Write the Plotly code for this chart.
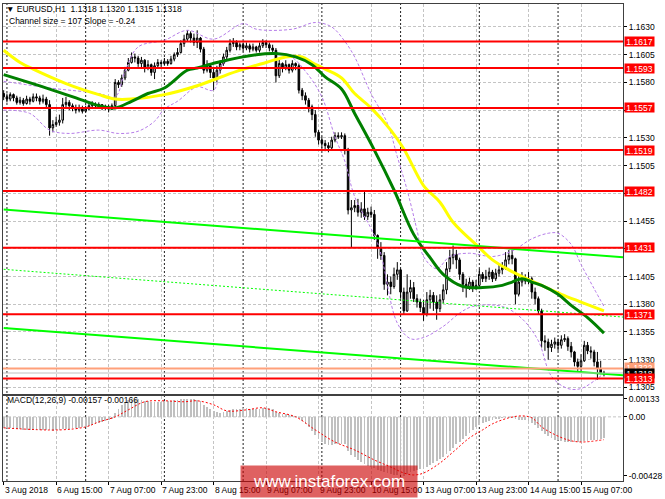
import plotly.graph_objects as go

# ---------------- data ----------------
closes = [1.1567,1.1565,1.1569,1.1566,1.1562,1.1564,1.1561,1.1565,1.1563,1.1567,
 1.1566,1.1563,1.1565,1.1560,1.1539,1.1542,1.1544,1.1546,1.1560,1.1562,
 1.1559,1.1557,1.1555,1.1557,1.1554,1.1556,1.1559,1.1560,1.1559,1.1560,
 1.1557,1.1558,1.1556,1.1559,1.1580,1.1578,1.1584,1.1591,1.1598,1.1603,
 1.1602,1.1597,1.1600,1.1593,1.1596,1.1589,1.1595,1.1598,1.1597,1.1599,
 1.1597,1.1601,1.1605,1.1607,1.1615,1.1619,1.1624,1.1620,1.1616,1.1620,
 1.1610,1.1591,1.1595,1.1589,1.1584,1.1591,1.1597,1.1603,1.1609,1.1615,
 1.1616,1.1612,1.1614,1.1611,1.1613,1.1610,1.1612,1.1609,1.1613,1.1616,
 1.1614,1.1611,1.1609,1.1586,1.1597,1.1593,1.1596,1.1591,1.1597,1.1595,
 1.1573,1.1568,1.1564,1.1558,1.1551,1.1535,1.1528,1.1525,1.1523,1.1521,
 1.1528,1.1532,1.1531,1.1532,1.1519,1.1465,1.1467,1.1469,1.1463,1.1466,
 1.1459,1.1463,1.1461,1.1442,1.1431,1.1424,1.1398,1.1400,1.1396,1.1407,
 1.1411,1.1391,1.1374,1.1391,1.1395,1.1385,1.1382,1.1377,1.1371,1.1384,
 1.1388,1.1382,1.1376,1.1384,1.1393,1.1412,1.1422,1.1425,1.1420,1.1407,
 1.1398,1.1396,1.1400,1.1395,1.1397,1.1407,1.1403,1.1405,1.1409,1.1403,
 1.1408,1.1411,1.1413,1.1420,1.1424,1.1421,1.1389,1.1400,1.1403,1.1401,
 1.1403,1.1391,1.1385,1.1374,1.1347,1.1346,1.1341,1.1344,1.1346,1.1343,
 1.1348,1.1349,1.1342,1.1337,1.1328,1.1324,1.1329,1.1343,1.1338,1.1337,
 1.1328,1.1322,1.1318,1.1318]

highs = [1.1573,1.1570,1.1571,1.1570,1.1568,1.1567,1.1566,1.1568,1.1567,1.1570,
 1.1570,1.1568,1.1569,1.1567,1.1564,1.1546,1.1549,1.1551,1.1566,1.1567,
 1.1564,1.1561,1.1560,1.1560,1.1559,1.1559,1.1562,1.1563,1.1562,1.1562,
 1.1560,1.1560,1.1560,1.1561,1.1583,1.1582,1.1587,1.1594,1.1602,1.1607,
 1.1606,1.1604,1.1603,1.1601,1.1600,1.1597,1.1598,1.1601,1.1600,1.1602,
 1.1601,1.1604,1.1607,1.1611,1.1618,1.1623,1.1627,1.1626,1.1624,1.1627,
 1.1621,1.1612,1.1600,1.1597,1.1593,1.1595,1.1600,1.1606,1.1612,1.1619,
 1.1620,1.1618,1.1616,1.1616,1.1616,1.1615,1.1615,1.1613,1.1616,1.1619,
 1.1618,1.1616,1.1614,1.1611,1.1601,1.1598,1.1600,1.1597,1.1600,1.1598,
 1.1597,1.1575,1.1571,1.1566,1.1560,1.1555,1.1537,1.1531,1.1528,1.1526,
 1.1531,1.1535,1.1535,1.1535,1.1534,1.1521,1.1474,1.1474,1.1475,1.1472,
 1.1483,1.1467,1.1468,1.1465,1.1443,1.1436,1.1427,1.1407,1.1405,1.1413,
 1.1418,1.1412,1.1395,1.1407,1.1402,1.1400,1.1389,1.1385,1.1384,1.1391,
 1.1393,1.1391,1.1388,1.1389,1.1398,1.1418,1.1429,1.1433,1.1429,1.1422,
 1.1409,1.1403,1.1404,1.1402,1.1402,1.1412,1.1409,1.1411,1.1413,1.1411,
 1.1412,1.1416,1.1418,1.1427,1.1429,1.1429,1.1422,1.1407,1.1409,1.1407,
 1.1409,1.1405,1.1395,1.1387,1.1376,1.1352,1.1349,1.1348,1.1350,1.1349,
 1.1352,1.1353,1.1351,1.1346,1.1338,1.1331,1.1335,1.1347,1.1346,1.1342,
 1.1339,1.1337,1.1329,1.1320]

lows = [1.1564,1.1562,1.1563,1.1563,1.1560,1.1560,1.1559,1.1560,1.1560,1.1562,
 1.1563,1.1560,1.1561,1.1557,1.1532,1.1535,1.1540,1.1541,1.1543,1.1557,
 1.1555,1.1554,1.1552,1.1553,1.1552,1.1553,1.1555,1.1557,1.1556,1.1557,
 1.1555,1.1555,1.1553,1.1555,1.1557,1.1575,1.1576,1.1582,1.1590,1.1597,
 1.1598,1.1594,1.1593,1.1589,1.1591,1.1586,1.1583,1.1593,1.1594,1.1595,
 1.1595,1.1596,1.1599,1.1603,1.1606,1.1612,1.1617,1.1616,1.1613,1.1611,
 1.1607,1.1588,1.1589,1.1584,1.1573,1.1580,1.1588,1.1595,1.1601,1.1607,
 1.1612,1.1609,1.1609,1.1608,1.1609,1.1607,1.1608,1.1607,1.1607,1.1611,
 1.1611,1.1608,1.1606,1.1580,1.1584,1.1589,1.1591,1.1588,1.1589,1.1591,
 1.1570,1.1564,1.1560,1.1553,1.1546,1.1531,1.1524,1.1521,1.1518,1.1517,
 1.1519,1.1526,1.1529,1.1529,1.1515,1.1461,1.1431,1.1463,1.1459,1.1458,
 1.1456,1.1456,1.1458,1.1438,1.1421,1.1420,1.1393,1.1388,1.1389,1.1394,
 1.1402,1.1385,1.1371,1.1373,1.1385,1.1382,1.1377,1.1373,1.1365,1.1369,
 1.1376,1.1374,1.1366,1.1373,1.1381,1.1389,1.1409,1.1416,1.1412,1.1402,
 1.1391,1.1386,1.1393,1.1391,1.1393,1.1394,1.1400,1.1400,1.1402,1.1400,
 1.1401,1.1405,1.1407,1.1411,1.1416,1.1416,1.1380,1.1387,1.1396,1.1398,
 1.1398,1.1385,1.1380,1.1371,1.1341,1.1338,1.1330,1.1337,1.1340,1.1338,
 1.1340,1.1346,1.1338,1.1332,1.1324,1.1320,1.1320,1.1328,1.1335,1.1331,
 1.1324,1.1312,1.1317,1.1315]

first_open = 1.1570

macd_hist = [-0.00080,-0.00082,-0.00084,-0.00086,-0.00088,-0.00090,
 -0.00092,-0.00093,-0.00094,-0.00095,-0.00095,-0.00096,-0.00096,-0.00095,-0.00098,-0.00100,-0.00098,-0.00096,
 -0.00090,-0.00088,-0.00085,-0.00082,-0.00080,-0.00078,-0.00075,-0.00072,-0.00070,
 -0.00062,-0.00055,-0.00048,-0.00040,-0.00032,-0.00022,-0.00012,
 0.00030,0.00060,0.00085,
 0.00105,0.00120,0.00130,0.00133,
 0.00128,0.00122,0.00118,0.00112,0.00108,0.00105,0.00108,0.00110,0.00112,
 0.00115,0.00118,0.00120,0.00124,0.00128,0.00131,0.00133,0.00132,0.00130,
 0.00125,0.00112,0.00090,0.00075,0.00060,0.00045,
 0.00035,0.00030,0.00032,0.00040,0.00048,0.00055,0.00058,0.00060,
 0.00062,0.00062,0.00060,0.00058,0.00056,0.00058,0.00062,0.00064,0.00062,0.00058,
 0.00035,0.00028,0.00022,0.00018,0.00012,0.00010,0.00008,
 -0.00010,-0.00030,-0.00050,-0.00075,-0.00100,-0.00130,-0.00155,-0.00180,-0.00195,-0.00205,
 -0.00205,-0.00200,-0.00198,-0.00195,-0.00200,
 -0.00250,-0.00275,-0.00295,-0.00315,-0.00330,-0.00345,-0.00355,-0.00362,
 -0.00375,-0.00385,-0.00392,-0.00405,-0.00412,-0.00418,-0.00420,-0.00422,-0.00425,-0.00428,
 -0.00418,-0.00405,-0.00395,-0.00385,-0.00378,-0.00370,-0.00362,
 -0.00350,-0.00338,-0.00325,-0.00310,-0.00295,-0.00272,-0.00250,
 -0.00225,-0.00200,-0.00180,-0.00160,-0.00140,-0.00120,-0.00095,-0.00075,-0.00060,
 -0.00045,-0.00035,-0.00028,-0.00022,-0.00015,-0.00012,-0.00010,
 -0.00008,-0.00005,-0.00005,-0.00015,-0.00020,-0.00022,-0.00025,-0.00030,
 -0.00045,-0.00060,-0.00078,-0.00105,-0.00125,
 -0.00140,-0.00155,-0.00165,-0.00172,-0.00178,-0.00180,-0.00182,
 -0.00182,-0.00185,-0.00185,-0.00182,-0.00178,-0.00175,-0.00172,-0.00168,-0.00165,-0.00160,-0.00157]

signal_idx = [0,17,25,29,34,38,43,49,55,59,64,68,74,79,83,89,95,101,107,113,
              118,122,125,128,133,137,142,146,149,154,158,161,164,167,172,176,183]
signal_val = [-0.00080,-0.00095,-0.00073,-0.00037,0.0,0.00051,0.00110,0.00117,0.00110,0.00117,
              0.00088,0.00044,0.00051,0.00066,0.00037,0.0,-0.00095,-0.00183,-0.00241,-0.00314,
              -0.00365,-0.00409,-0.00423,-0.00409,-0.00336,-0.00256,-0.00153,-0.00095,-0.00051,-0.00007,
              0.00007,-0.00007,-0.00073,-0.00117,-0.00168,-0.00183,-0.00166]

ma_fast_idx = [0,14,24,29,34,39,44,49,56,59,65,77,83,89,94,98,103,107,113,119,
               125,130,134,140,146,152,155,158,161,164,169,173,178,183]
ma_fast_val = [1.1587,1.1574,1.1564,1.1559,1.1557,1.1563,1.1570,1.1575,1.1591,1.1593,
               1.1598,1.1605,1.1606,1.1603,1.1596,1.1585,1.1574,1.1552,1.1519,1.1483,
               1.1443,1.1422,1.1407,1.1396,1.1395,1.1397,1.1400,1.1403,1.1400,1.1397,
               1.1389,1.1379,1.1368,1.1354]

ma_slow_idx = [0,5,9,19,29,34,39,49,59,71,80,86,91,94,98,103,107,112,118,122,
               128,133,137,145,149,154,158,164,170,176,183]
ma_slow_val = [1.1609,1.1598,1.1592,1.1579,1.1569,1.1565,1.1565,1.1569,1.1577,1.1590,
               1.1598,1.1603,1.1603,1.1598,1.1592,1.1584,1.1570,1.1557,1.1537,1.1520,
               1.1487,1.1472,1.1454,1.1431,1.1420,1.1411,1.1405,1.1397,1.1389,1.1382,
               1.1374]

bb_upper_idx = [0,14,29,34,37,41,49,56,64,73,77,88,95,100,104,107,112,117,120,123,
                126,128,132,136,142,149,155,161,166,169,173,176,180,183]
bb_upper_val = [1.1581,1.1575,1.1570,1.1567,1.1590,1.1612,1.1618,1.1627,1.1619,1.1633,
                1.1628,1.1628,1.1634,1.1630,1.1617,1.1603,1.1570,1.1543,1.1513,1.1483,
                1.1447,1.1423,1.1412,1.1423,1.1426,1.1423,1.1428,1.1439,1.1444,1.1444,
                1.1434,1.1416,1.1394,1.1378]

bb_lower_idx = [0,8,14,20,29,35,41,46,49,53,59,64,67,77,87,92,97,101,104,107,
                114,120,124,128,134,139,143,152,158,163,167,172,176,181,183]
bb_lower_val = [1.1555,1.1552,1.1537,1.1534,1.1537,1.1534,1.1536,1.1545,1.1556,1.1563,
                1.1576,1.1573,1.1597,1.1605,1.1604,1.1590,1.1567,1.1531,1.1509,1.1477,
                1.1435,1.1363,1.1349,1.1350,1.1360,1.1372,1.1378,1.1378,1.1367,1.1347,
                1.1315,1.1304,1.1304,1.1313,1.1318]

channel_idx = [0, 189]
channel_upper = [1.14655, 1.14223]
channel_mid = [1.14115, 1.13684]
channel_lower = [1.13585, 1.13159]

levels = [1.1617, 1.1593, 1.1557, 1.1519, 1.1482, 1.1431, 1.1371, 1.1313]
salmon_level = 1.1322
bid_price = 1.1318

price_ticks = [1.1630, 1.1605, 1.1580, 1.1555, 1.1530, 1.1505, 1.1480,
               1.1455, 1.1430, 1.1405, 1.1380, 1.1355, 1.1330, 1.1305]
macd_ticks = [0.00133, 0.0, -0.00428]
macd_tick_text = ["0.00133", "0.00", "-0.00428"]

time_label_idx = [0, 16, 32, 48, 64, 80, 96, 112, 128, 144, 160, 176]
time_labels = ["3 Aug 2018", "6 Aug 15:00", "7 Aug 07:00", "7 Aug 23:00", "8 Aug 15:00",
               "9 Aug 07:00", "9 Aug 23:00", "10 Aug 15:00", "13 Aug 07:00",
               "13 Aug 23:00", "14 Aug 15:00", "15 Aug 07:00"]
day_sep_idx = [1, 25, 49, 73, 97, 121, 145, 169]

header_text = "\u25bc EURUSD,H1  1.1318 1.1320 1.1315 1.1318"
channel_text = "Channel size = 107 Slope = -0.24"
macd_text = "MACD(12,26,9) -0.00157 -0.00166"
watermark = "www.instaforex.com"

# ---------------- build ----------------
assert len(closes) == len(highs) == len(lows) == len(macd_hist)
bars = list(range(len(closes)))
opens = [first_open] + closes[:-1]
highs = [max(h, o, c) for h, o, c in zip(highs, opens, closes)]
lows = [min(l, o, c) for l, o, c in zip(lows, opens, closes)]

FONT = "Liberation Sans, Arial, sans-serif"
W, H = 665, 499
ML, MR, MT, MB = 3, 33, 2, 18
PW, PH = W - ML - MR, H - MT - MB


def pxx(px):
    return (px - ML) / PW


def pxy(py):
    return (H - MB - py) / PH


fig = go.Figure()

fig.add_trace(go.Candlestick(
    x=bars, open=opens, high=highs, low=lows, close=closes,
    increasing=dict(line=dict(color="black", width=1), fillcolor="white"),
    decreasing=dict(line=dict(color="black", width=1), fillcolor="black"),
    whiskerwidth=0, xaxis="x", yaxis="y", hoverinfo="skip", showlegend=False))

violet = "#B57CE8"
fig.add_trace(go.Scatter(x=bb_upper_idx, y=bb_upper_val, mode="lines",
                         line=dict(color=violet, width=1, dash="3px,2px", shape="spline"),
                         xaxis="x", yaxis="y", hoverinfo="skip"))
fig.add_trace(go.Scatter(x=bb_lower_idx, y=bb_lower_val, mode="lines",
                         line=dict(color=violet, width=1, dash="3px,2px", shape="spline"),
                         xaxis="x", yaxis="y", hoverinfo="skip"))
fig.add_trace(go.Scatter(x=ma_slow_idx, y=ma_slow_val, mode="lines",
                         line=dict(color="#FFFF00", width=3, shape="spline"),
                         xaxis="x", yaxis="y", hoverinfo="skip"))
fig.add_trace(go.Scatter(x=ma_fast_idx, y=ma_fast_val, mode="lines",
                         line=dict(color="#008000", width=3, shape="spline"),
                         xaxis="x", yaxis="y", hoverinfo="skip"))
fig.add_trace(go.Scatter(x=channel_idx, y=channel_upper, mode="lines",
                         line=dict(color="#00FF00", width=2), xaxis="x", yaxis="y", hoverinfo="skip"))
fig.add_trace(go.Scatter(x=channel_idx, y=channel_mid, mode="lines",
                         line=dict(color="#00FF00", width=1, dash="2px,2px"), xaxis="x", yaxis="y", hoverinfo="skip"))
fig.add_trace(go.Scatter(x=channel_idx, y=channel_lower, mode="lines",
                         line=dict(color="#00FF00", width=2), xaxis="x", yaxis="y", hoverinfo="skip"))

# MACD panel
fig.add_trace(go.Bar(x=bars, y=macd_hist, marker=dict(color="#C0C0C0", line=dict(width=0)),
                     width=0.55, xaxis="x2", yaxis="y2", hoverinfo="skip"))
fig.add_trace(go.Scatter(x=signal_idx, y=signal_val, mode="lines",
                         line=dict(color="#FF0000", width=1, dash="2px,2px", shape="spline"),
                         xaxis="x2", yaxis="y2", hoverinfo="skip"))

main_bottom = pxy(393.5)
macd_top = pxy(395.5)
grid = dict(showgrid=True, gridcolor="#C4C4C4", griddash="3px,2px", gridwidth=1)
frame = dict(showline=True, linecolor="#404040", linewidth=1, mirror=True, zeroline=False)

# tick labels that sit under a level box are hidden by the box in the reference
covered = [1.1555, 1.1480, 1.1430]
price_tick_text = ["" if v in covered else f"{v:.4f}" for v in price_ticks]

fig.update_layout(
    width=W, height=H, margin=dict(l=ML, r=MR, t=MT, b=MB),
    paper_bgcolor="white", plot_bgcolor="white", showlegend=False,
    font=dict(family=FONT, size=8.5, color="black"),
    bargap=0,
    xaxis=dict(domain=[0, 1], range=[-0.2, 188.8], anchor="y", tickvals=time_label_idx,
               showticklabels=False, ticks="", rangeslider=dict(visible=False), **grid, **frame),
    xaxis2=dict(domain=[0, 1], matches="x", anchor="y2", tickvals=time_label_idx,
                showticklabels=False, ticks="outside", ticklen=3, tickcolor="black", **grid, **frame),
    yaxis=dict(domain=[main_bottom, 1], range=[1.12992, 1.16507], side="right",
               tickvals=price_ticks, ticktext=price_tick_text,
               ticks="outside", ticklen=3, tickcolor="black",
               tickfont=dict(size=8.5, family=FONT), **grid, **frame),
    yaxis2=dict(domain=[0, macd_top], range=[-0.00467, 0.00153], side="right",
                tickvals=macd_ticks, ticktext=macd_tick_text, ticks="outside", ticklen=3,
                tickcolor="black", showgrid=False, tickfont=dict(size=8.5, family=FONT), **frame),
)

shapes = []
shapes.append(dict(type="line", xref="paper", x0=0, x1=1, yref="y2", y0=0, y1=0,
                   line=dict(color="#C4C4C4", width=1, dash="3px,2px"), layer="below"))
for d in day_sep_idx:
    shapes.append(dict(type="line", xref="x", x0=d, x1=d, yref="paper", y0=0, y1=1,
                       line=dict(color="#202020", width=1, dash="2px,2px"), layer="below"))
for lv in levels:
    shapes.append(dict(type="line", xref="paper", x0=0, x1=1, yref="y", y0=lv, y1=lv,
                       line=dict(color="#FF0000", width=2)))
shapes.append(dict(type="line", xref="paper", x0=0, x1=1, yref="y", y0=salmon_level, y1=salmon_level,
                   line=dict(color="#FFA07A", width=2)))
shapes.append(dict(type="line", xref="paper", x0=0, x1=1, yref="y", y0=bid_price, y1=bid_price,
                   line=dict(color="#C0C0C0", width=1)))
fig.update_layout(shapes=shapes)

ann = []
ann.append(dict(x=pxx(4), y=pxy(7), xref="paper", yref="paper", text=header_text, showarrow=False,
                xanchor="left", yanchor="middle", font=dict(size=8.5, color="black")))
ann.append(dict(x=pxx(7), y=pxy(19.5), xref="paper", yref="paper", text=channel_text, showarrow=False,
                xanchor="left", yanchor="middle", font=dict(size=8.5, color="black")))
ann.append(dict(x=pxx(5), y=pxy(400), xref="paper", yref="paper", text=macd_text, showarrow=False,
                xanchor="left", yanchor="middle", font=dict(size=8.5, color="black")))
for i, t in zip(time_label_idx, time_labels):
    ann.append(dict(x=i, xref="x2", y=pxy(490), yref="paper", text=t, showarrow=False,
                    xanchor="left", yanchor="middle", xshift=-1, font=dict(size=8.5, color="black")))
box = dict(xref="paper", x=1, xanchor="left", xshift=1, yref="y", showarrow=False,
           width=29, height=9, borderpad=0, align="center")
ann.append(dict(y=salmon_level, text=f"{salmon_level:.4f}", bgcolor="#FFA07A",
                font=dict(size=8.5, color="white"), yshift=1, **box))
ann.append(dict(y=bid_price, text=f"{bid_price:.4f}", bgcolor="black",
                font=dict(size=8.5, color="white"), **box))
for lv in levels:
    ann.append(dict(y=lv, text=f"{lv:.4f}", bgcolor="#FF0000",
                    font=dict(size=8.5, color="white"), **box))
ann.append(dict(x=pxx(334), y=pxy(482), xref="paper", yref="paper", text=watermark, showarrow=False,
                xanchor="center", yanchor="middle", width=176, height=31, borderpad=0,
                bgcolor="rgba(204,0,0,0.62)", font=dict(size=17, color="white", family=FONT)))
fig.update_layout(annotations=ann)

fig.write_html("out.html", config={"displayModeBar": False, "staticPlot": True},
               post_script="document.body.style.margin='0';document.body.style.overflow='hidden';")
